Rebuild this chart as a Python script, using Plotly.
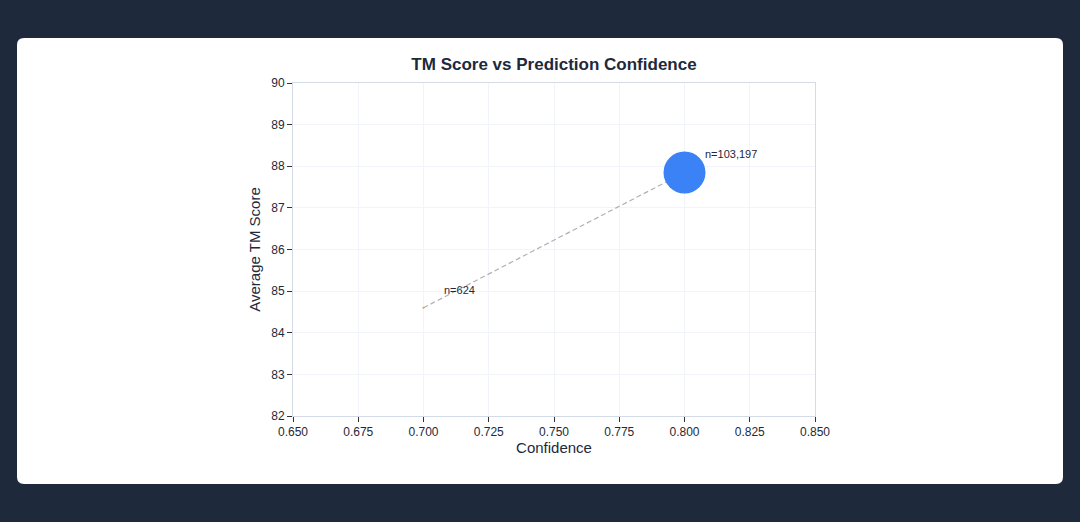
import plotly.graph_objects as go

confidence = [0.70, 0.80]
tm_score = [84.6, 87.85]
counts = [624, 103197]
labels = ["n=624", "n=103,197"]
marker_sizes = [2, 42]
marker_colors = ["#f59e0b", "#3b82f6"]

W, H = 1080, 522
L, R, T, B = 293, 265, 83, 106
pw, ph = W - L - R, H - T - B

def px(x):
    return (x - L) / pw

def py(y):
    return (H - B - y) / ph

# rounded white card
x0, x1, y0, y1 = 17, 1063, 38, 484
r = 7
path = (
    f"M {px(x0 + r)} {py(y0)} L {px(x1 - r)} {py(y0)} "
    f"Q {px(x1)} {py(y0)} {px(x1)} {py(y0 + r)} "
    f"L {px(x1)} {py(y1 - r)} Q {px(x1)} {py(y1)} {px(x1 - r)} {py(y1)} "
    f"L {px(x0 + r)} {py(y1)} Q {px(x0)} {py(y1)} {px(x0)} {py(y1 - r)} "
    f"L {px(x0)} {py(y0 + r)} Q {px(x0)} {py(y0)} {px(x0 + r)} {py(y0)} Z"
)

fig = go.Figure()
fig.add_trace(go.Scatter(
    x=confidence, y=tm_score, mode="lines",
    line=dict(color="#b0b0b0", width=1.2, dash="5px,3px"),
    hoverinfo="skip", showlegend=False,
))
fig.add_trace(go.Scatter(
    x=confidence, y=tm_score, mode="markers",
    marker=dict(size=marker_sizes, color=marker_colors, opacity=1, line=dict(width=0)),
    customdata=counts, showlegend=False,
))
for xv, yv, t in zip(confidence, tm_score, labels):
    fig.add_annotation(x=xv, y=yv, text=t, showarrow=False,
                       xanchor="left", yanchor="middle", xshift=18, yshift=18,
                       font=dict(size=11, color="#1e293b", family="Liberation Sans, Arial"))

axis_common = dict(
    showline=True, linecolor="#d3dbe6", linewidth=1, mirror=True,
    showgrid=True, gridcolor="#f1f4f8", gridwidth=1,
    ticks="outside", ticklen=5, tickcolor="#333", tickwidth=1,
    tickfont=dict(size=12, color="#1e293b", family="Liberation Sans, Arial"),
    zeroline=False,
)

fig.update_layout(
    width=W, height=H,
    margin=dict(l=L, r=R, t=T, b=B),
    paper_bgcolor="#1e293b",
    plot_bgcolor="white",
    title=dict(text="<b>TM Score vs Prediction Confidence</b>", x=0.5, xref="paper",
               xanchor="center", y=1 - 64 / H, yanchor="middle",
               font=dict(size=17, color="#1e293b", family="Liberation Sans, Arial")),
    xaxis=dict(range=[0.65, 0.85], dtick=0.025, tick0=0.65, tickformat=".3f",
               title=dict(text="Confidence", standoff=3,
                          font=dict(size=15, color="#1e293b", family="Liberation Sans, Arial")),
               **axis_common),
    yaxis=dict(range=[82, 90], dtick=1,
               title=dict(text="Average TM Score", standoff=6,
                          font=dict(size=15, color="#1e293b", family="Liberation Sans, Arial")),
               **axis_common),
    shapes=[dict(type="path", path=path, xref="paper", yref="paper",
                 fillcolor="white", line=dict(width=0), layer="below")],
)

fig.write_html("out.html")
